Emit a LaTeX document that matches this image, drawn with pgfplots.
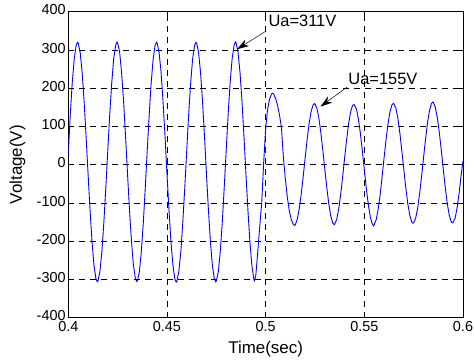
\documentclass[border=0pt]{standalone}
\usepackage{fontspec}
\setmainfont{Liberation Sans}
\usepackage{pgfplots}
\pgfplotsset{compat=1.18}
\usetikzlibrary{arrows.meta}

\pgfplotstableread{
t v
0.400 28
0.401 131.3
0.402 214.0
0.403 276.4
0.404 312.5
0.4047 320
0.405 318.6
0.406 294.3
0.407 241.8
0.408 166.3
0.409 75.3
0.410 -22.5
0.411 -117.3
0.412 -200.0
0.413 -262.4
0.414 -298.5
0.4147 -306
0.415 -304.6
0.416 -280.3
0.417 -227.8
0.418 -152.3
0.419 -61.3
0.420 35.8
0.421 132.0
0.422 213.1
0.423 277.0
0.424 311.8
0.4247 321
0.425 317.9
0.426 295.0
0.427 241.0
0.428 167.1
0.429 74.6
0.430 -22.0
0.431 -118.1
0.432 -199.2
0.433 -263.0
0.434 -297.8
0.4347 -305
0.435 -303.9
0.436 -281.0
0.437 -227.1
0.438 -153.0
0.439 -60.7
0.440 36.9
0.441 130.6
0.442 214.6
0.443 275.8
0.444 313.0
0.4447 320
0.445 318.9
0.446 293.7
0.447 242.4
0.448 165.6
0.449 75.9
0.450 -23.1
0.451 -116.7
0.452 -200.6
0.453 -261.8
0.454 -299.0
0.4547 -307
0.455 -305.1
0.456 -279.7
0.457 -228.4
0.458 -151.8
0.459 -61.9
0.460 36.2
0.461 131.8
0.462 213.5
0.463 276.9
0.464 312.1
0.4647 320
0.465 318.2
0.466 294.8
0.467 241.3
0.468 166.8
0.469 74.9
0.470 -22.8
0.471 -117.8
0.472 -199.6
0.473 -262.9
0.474 -298.1
0.4747 -306
0.475 -304.2
0.476 -280.8
0.477 -227.4
0.478 -152.7
0.479 -60.9
0.480 36.5
0.481 131.3
0.482 214.0
0.483 276.4
0.484 312.5
0.4847 321
0.485 318.6
0.486 294.3
0.487 241.8
0.488 166.3
0.489 75.3
0.490 -22.5
0.491 -117.3
0.492 -200.0
0.493 -262.4
0.494 -298.5
0.4943 -303
0.495 -290
0.496 -228
0.497 -162
0.498 -100
0.499 5
0.500 95
0.501 145
0.502 172
0.503 185
0.5035 187
0.504 185
0.505 174
0.506 156
0.507 130
0.508 98
0.509 18
0.510 -38
0.511 -86
0.512 -121
0.513 -144
0.514 -156
0.5146 -159
0.515 -157.5
0.516 -143
0.517 -116
0.518 -78
0.519 -32
0.520 16.9
0.521 64.7
0.522 106.5
0.523 138.0
0.524 156.2
0.5247 160
0.525 158.5
0.526 147.0
0.527 120.5
0.528 82.4
0.529 36.5
0.530 -12.9
0.531 -60.7
0.532 -102.5
0.533 -134.0
0.534 -152.2
0.5347 -157
0.535 -155.3
0.536 -143.0
0.537 -116.5
0.538 -78.4
0.539 -32.5
0.540 16.9
0.541 64.0
0.542 105.8
0.543 137.2
0.544 154.8
0.5447 157
0.545 156.5
0.546 145.5
0.547 119.8
0.548 82.0
0.549 36.0
0.550 -13.5
0.551 -61.5
0.552 -103.5
0.553 -136.0
0.554 -154.5
0.5547 -160
0.555 -157.0
0.556 -144.0
0.557 -117.0
0.558 -79.0
0.559 -32.0
0.560 17.5
0.561 65.2
0.562 107.0
0.563 138.6
0.564 156.8
0.5647 160
0.565 159.0
0.566 147.5
0.567 121.0
0.568 83.0
0.569 37.0
0.570 -12.0
0.571 -59.5
0.572 -101.0
0.573 -131.5
0.574 -149.5
0.5747 -153
0.575 -152.0
0.576 -140.0
0.577 -114.5
0.578 -76.5
0.579 -31.0
0.580 18.0
0.581 66.0
0.582 108.5
0.583 140.5
0.584 159.5
0.5847 164
0.585 162.5
0.586 149.5
0.587 122.5
0.588 84.0
0.589 38.0
0.590 -11.5
0.591 -59.0
0.592 -100.5
0.593 -131.0
0.594 -149.0
0.5947 -152
0.595 -151.0
0.596 -139.5
0.597 -113.5
0.598 -75.5
0.599 -30.0
0.600 10.0
}\voltdata

\begin{document}
\begin{tikzpicture}
\begin{axis}[
  at={(0,0)}, anchor=south west,
  scale only axis, width=394.7bp, height=306bp,
  xmin=0.4, xmax=0.6, ymin=-400, ymax=400,
  xtick={0.4,0.45,0.5,0.55,0.6},
  xticklabels={0.4,0.45,0.5,0.55,0.6},
  ytick={-400,-300,-200,-100,0,100,200,300,400},
  yticklabels={-400,-300,-200,-100,0,100,200,300,400},
  grid=major,
  major grid style={black, line width=0.5bp, dash pattern=on 6bp off 5bp},
  tick align=inside, major tick length=4bp,
  tick style={black, line width=0.5bp},
  axis line style={black, line width=0.8bp},
  /pgf/number format/assume math mode=true,
  tick label style={font=\fontsize{14.5}{16}\selectfont},
  xticklabel style={inner xsep=0pt, inner ysep=4pt},
  yticklabel style={inner ysep=0pt, inner xsep=2.5pt, yshift=1.8bp},
  label style={font=\fontsize{17}{19}\selectfont},
  xlabel={Time(sec)}, ylabel={Voltage(V)},
  xlabel style={at={(axis description cs:0.5,-0.1023)}, anchor=center},
  ylabel style={at={(axis description cs:-0.129,0.5)}, anchor=center},
]
\addplot[blue, line width=0.9bp] table[x=t, y=v] {\voltdata};
\draw[-{Stealth[length=12bp,width=7.5bp]}, line width=0.5bp] (axis cs:0.4998,348) -- (axis cs:0.4855,302);
\node[anchor=base west, inner sep=0pt, font=\fontsize{16.5}{18}\selectfont] at (axis cs:0.50137,361.6) {Ua=311V};
\draw[-{Stealth[length=12bp,width=7.5bp]}, line width=0.5bp] (axis cs:0.5413,203) -- (axis cs:0.5278,152);
\node[anchor=base west, inner sep=0pt, font=\fontsize{16.5}{18}\selectfont] at (axis cs:0.54183,209) {Ua=155V};
\end{axis}
\pgfresetboundingbox
\path[use as bounding box] (-68.3bp,-46.3bp) rectangle (405.7bp,317.7bp);
\end{tikzpicture}
\end{document}
